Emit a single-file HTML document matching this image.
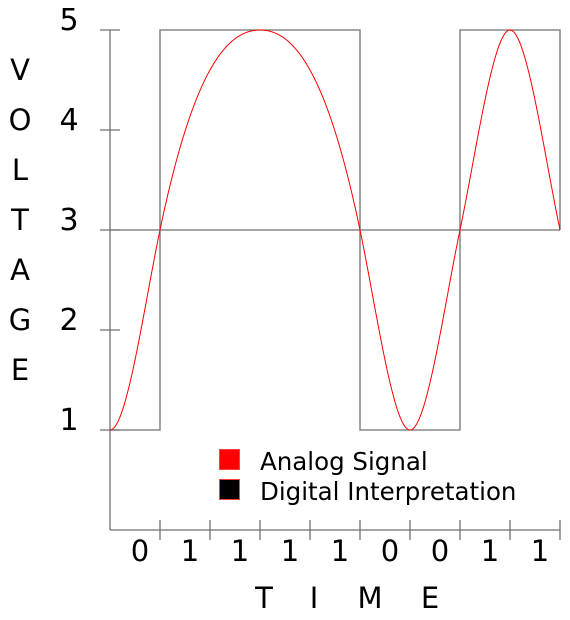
<!DOCTYPE html>
<html><head><meta charset="utf-8"><style>
html,body{margin:0;padding:0;background:#fff;}
svg{display:block;font-family:"DejaVu Sans","Liberation Sans",sans-serif;}
</style></head><body>
<svg id="chart" width="570" height="620" viewBox="0 0 570 620" xmlns="http://www.w3.org/2000/svg">
<g id="axes"></g>
<g id="marks"></g>
<g id="labels"></g>
<g>
<rect x="219.5" y="449.5" width="20" height="20" fill="#ff0000" stroke="#ff4040"/>
<text x="260" y="470" font-size="24.5">Analog Signal</text>
<rect x="219.5" y="479.5" width="20" height="20" fill="#000" stroke="#ff4040"/>
<text x="260" y="500" font-size="24.5">Digital Interpretation</text>
</g>
</svg>
<script>
const yTicks=[1,2,3,4,5];
const bits=[0,1,1,1,1,0,0,1,1];
const analogT=[0,1,3,5,6,7,8,9];
const analogV=[1,3,5,3,1,3,5,3];
const threshold=3;
const crossSlope=2.4;
const NS="http://www.w3.org/2000/svg";
const GRAY='#707070';
const X=t=>110+t*50;
const Y=v=>530-v*100;
function mk(tag,attrs,parent){const e=document.createElementNS(NS,tag);for(const k in attrs)e.setAttribute(k,attrs[k]);parent.appendChild(e);return e;}
const axes=document.getElementById('axes'),marks=document.getElementById('marks'),labels=document.getElementById('labels');
let a=mk('line',{x1:110,y1:Y(5),x2:110,y2:530,stroke:GRAY,'stroke-width':1.3},axes);

a=mk('line',{x1:110,y1:530,x2:X(bits.length),y2:530,stroke:GRAY,'stroke-width':1.3},axes);

yTicks.forEach(v=>{
 const t=mk('line',{x1:100,y1:Y(v),x2:120,y2:Y(v),stroke:GRAY,'stroke-width':1.3},axes);
 
 const l=mk('text',{x:69,y:Y(v),'font-size':30,'text-anchor':'middle'},labels);l.textContent=v;
 
});
for(let i=1;i<=bits.length;i++){
 const t=mk('line',{x1:X(i),y1:520,x2:X(i),y2:540,stroke:GRAY,'stroke-width':1.3},axes);
 
}
bits.forEach((b,i)=>{
 const l=mk('text',{x:X(i+0.5)+5,y:561,'font-size':29,'text-anchor':'middle'},labels);l.textContent=b;
 
});
"VOLTAGE".split('').forEach((c,i)=>{
 const l=mk('text',{x:20,y:80+i*50,'font-size':29,'text-anchor':'middle'},labels);l.textContent=c;
 
});
"TIME".split('').forEach((c,i)=>{
 const xs=[264,314,370,430];
 const l=mk('text',{x:xs[i],y:608,'font-size':29,'text-anchor':'middle'},labels);l.textContent=c;
 
});
let th=mk('line',{x1:110,y1:Y(threshold),x2:X(bits.length),y2:Y(threshold),stroke:GRAY,'stroke-width':1.3},marks);

let d='M'+X(0)+','+Y(bits[0]?5:1);
bits.forEach((b,i)=>{const v=b?5:1;d+=' L'+X(i)+','+Y(v)+' L'+X(i+1)+','+Y(v);});
d+=' L'+X(bits.length)+','+Y(analogV[analogV.length-1]);
let dp=mk('path',{d:d,fill:'none',stroke:GRAY,'stroke-width':1.3},marks);

function slopeAt(i){
 const v=analogV[i];
 if(v!==threshold) return 0;
 const prev=i>0?analogV[i-1]:null,next=i<analogV.length-1?analogV[i+1]:null;
 const ref=next!==null?next-v:v-prev;
 return Math.sign(ref)*crossSlope;
}
let ad='M'+X(analogT[0])+','+Y(analogV[0]);
for(let s=0;s<analogT.length-1;s++){
 const t0=analogT[s],t1=analogT[s+1],v0=analogV[s],v1=analogV[s+1],dt=t1-t0;
 const m0=slopeAt(s)*dt,m1=slopeAt(s+1)*dt;
 for(let k=1;k<=50;k++){
  const f=k/50,f2=f*f,f3=f2*f;
  const v=(2*f3-3*f2+1)*v0+(f3-2*f2+f)*m0+(-2*f3+3*f2)*v1+(f3-f2)*m1;
  ad+=' L'+X(t0+dt*f).toFixed(2)+','+Y(v).toFixed(2);
 }
}
let ap=mk('path',{d:ad,fill:'none',stroke:'#ff0000','stroke-width':1},marks);

</script>
</body></html>
